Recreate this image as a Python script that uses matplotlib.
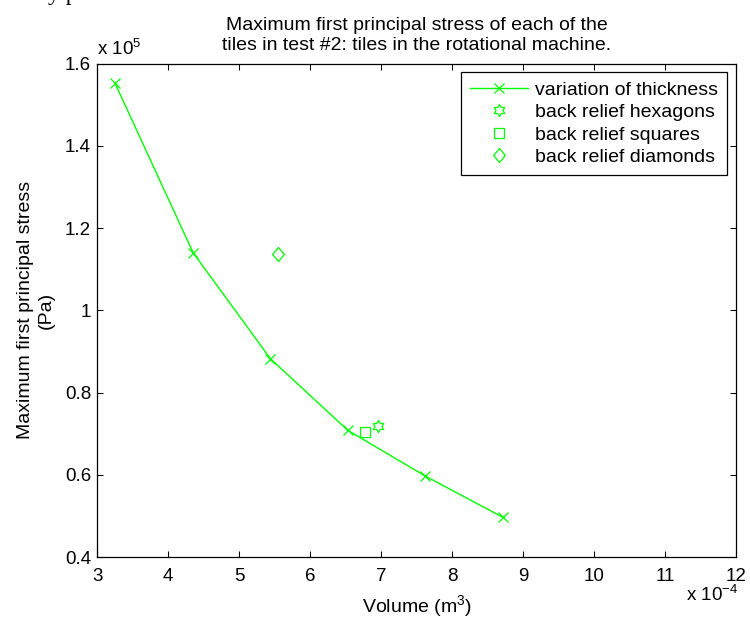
import matplotlib
matplotlib.use("Agg")
import matplotlib.pyplot as plt
from matplotlib.path import Path
import numpy as np

plt.rcParams['font.family'] = ['Liberation Sans', 'DejaVu Sans']
plt.rcParams['mathtext.fontset'] = 'custom'
plt.rcParams['mathtext.rm'] = 'Liberation Sans'
plt.rcParams['mathtext.it'] = 'Liberation Sans:italic'
plt.rcParams['mathtext.default'] = 'regular'

# ---- data (volume in units of 1e-4 m^3, stress in units of 1e5 Pa) ----
thickness_volume = [3.25, 4.35, 5.44, 6.53, 7.62, 8.71]
thickness_stress = [1.552, 1.140, 0.882, 0.708, 0.597, 0.497]
hexagon_volume = [6.95]
hexagon_stress = [0.719]
square_volume = [6.77]
square_stress = [0.704]
diamond_volume = [5.54]
diamond_stress = [1.136]

x_ticks = [3, 4, 5, 6, 7, 8, 9, 10, 11, 12]
x_tick_labels = ['3', '4', '5', '6', '7', '8', '9', '10', '11', '12']
y_ticks = [0.4, 0.6, 0.8, 1.0, 1.2, 1.4, 1.6]
y_tick_labels = ['0.4', '0.6', '0.8', '1', '1.2', '1.4', '1.6']

series_labels = ['variation of thickness', 'back relief hexagons',
                 'back relief squares', 'back relief diamonds']
title_text = ('Maximum first principal stress of each of the\n'
              'tiles in test #2: tiles in the rotational machine.')

green = '#00ff00'

# custom markers
hexagram = Path.unit_regular_star(6, 0.577)
diamond = Path([(0, 1), (0.85, 0), (0, -1), (-0.85, 0), (0, 1)],
               [Path.MOVETO, Path.LINETO, Path.LINETO, Path.LINETO, Path.CLOSEPOLY])

W, H = 750, 619
fig = plt.figure(figsize=(W / 100, H / 100), dpi=100)
ax_left, ax_right, ax_top, ax_bottom = 97.3, 736.0, 63.5, 557.0
ax = fig.add_axes([ax_left / W, 1 - ax_bottom / H,
                   (ax_right - ax_left) / W, (ax_bottom - ax_top) / H])

ax.plot(thickness_volume, thickness_stress, color=green, lw=1.0,
        marker='x', markersize=7, markeredgewidth=0.9, label=series_labels[0])
ax.plot(hexagon_volume, hexagon_stress, ls='none', marker=hexagram,
        markersize=8.6, markerfacecolor='none', markeredgecolor=green,
        markeredgewidth=0.9, label=series_labels[1])
ax.plot(square_volume, square_stress, ls='none', marker='s',
        markersize=7, markerfacecolor='none', markeredgecolor=green,
        markeredgewidth=0.9, label=series_labels[2])
ax.plot(diamond_volume, diamond_stress, ls='none', marker=diamond,
        markersize=10, markerfacecolor='none', markeredgecolor=green,
        markeredgewidth=0.9, label=series_labels[3])

ax.set_xlim(3, 12)
ax.set_ylim(0.4, 1.6)
ax.set_xticks(x_ticks)
ax.set_xticklabels(x_tick_labels)
ax.set_yticks(y_ticks)
ax.set_yticklabels(y_tick_labels)
ax.tick_params(axis='both', direction='in', top=True, right=True,
               length=4.3, width=0.75, labelsize=13.5, colors='black')
ax.tick_params(axis='x', pad=8.0)
ax.tick_params(axis='y', pad=4.5)
for sp in ax.spines.values():
    sp.set_linewidth(0.9)
    sp.set_color('black')

ax.set_title(title_text, fontsize=14, pad=9.7, linespacing=1.22)

ax.set_xlabel('Volume (m$^3$)', fontsize=14)
ax.xaxis.label.set_va('baseline')
ax.xaxis.set_label_coords(0.5, ((H - 612) - (H - ax_bottom)) / (ax_bottom - ax_top))

ax.set_ylabel('Maximum first principal stress\n(Pa)', fontsize=14, linespacing=1.3)
ax.yaxis.set_label_coords((55.0 - ax_left) / (ax_right - ax_left), 0.5)

# axis multiplier texts (MATLAB style)
fig.text(97 / W, 1 - 55 / H, r'x 10$^{5}$', fontsize=13.5, ha='left', va='baseline')
fig.text(686 / W, 1 - 601 / H, r'x 10$^{-4}$', fontsize=13.5, ha='left', va='baseline')

# fragment of surrounding page text, cut at the top edge
fig.text(48 / W, 1.0, 'y p', family='Liberation Serif', fontsize=17,
         ha='left', va='baseline')

leg = ax.legend(loc='upper right', bbox_to_anchor=(1, 1), fontsize=14,
                frameon=True, fancybox=False, framealpha=1, edgecolor='black',
                borderaxespad=0.46, handlelength=3.0, handletextpad=0.36,
                labelspacing=0.25, borderpad=0.45, numpoints=1)
leg.get_frame().set_linewidth(0.9)

fig.savefig('out.png', dpi=100)
